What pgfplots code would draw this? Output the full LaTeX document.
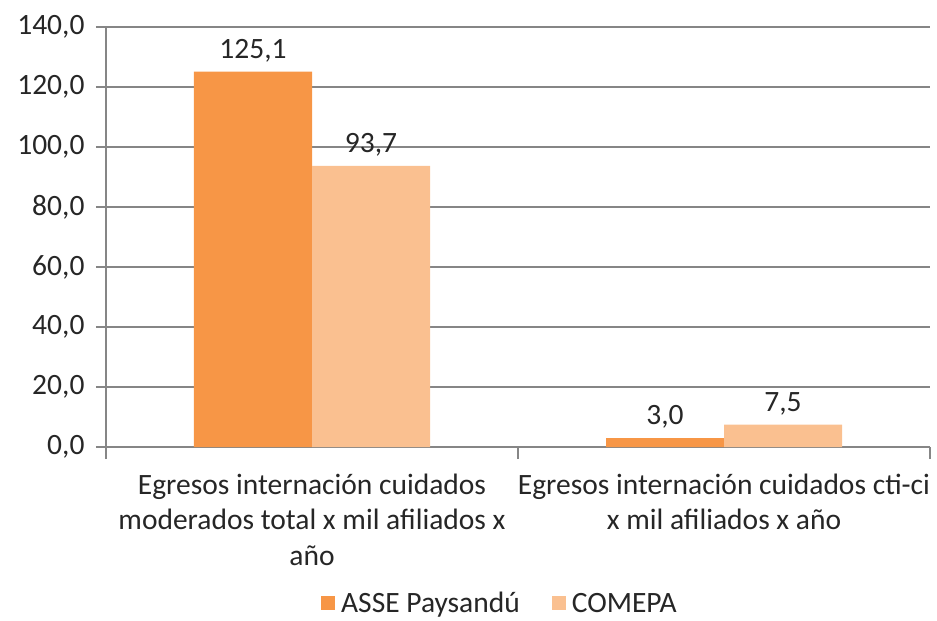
\documentclass[border=0pt]{standalone}
\usepackage{pgfplots}
\pgfplotsset{compat=1.18}
\usepackage{fontspec}
\setmainfont{Carlito}
\definecolor{asse}{HTML}{F79646}
\definecolor{comepa}{HTML}{FAC090}
\definecolor{axisgray}{HTML}{868686}
\definecolor{txt}{HTML}{262626}
\begin{document}
\begin{tikzpicture}
\begin{axis}[
    at={(0pt,0pt)}, anchor=south west,
    scale only axis,
    width=824pt, height=420pt,
    ybar=0pt,
    bar width=118pt,
    xmin=-0.5, xmax=1.5,
    ymin=0, ymax=140,
    ytick={0,20,...,140},
    xtick={0,1},
    xticklabels={{Egresos internación cuidados\\moderados total x mil afiliados x\\año},
                 {Egresos internación cuidados cti-ci\\x mil afiliados x año}},
    xtick style={draw=none},
    extra x ticks={-0.5,0.5,1.5},
    extra x tick labels={},
    extra x tick style={xtick style={draw=axisgray, line width=1.5pt}, major tick length=12pt, tick align=outside},
    axis x line*=bottom,
    axis y line*=left,
    axis line style={draw=axisgray, line width=1.5pt},
    ytick style={draw=axisgray, line width=1.5pt},
    major tick length=10pt,
    tick align=outside,
    ymajorgrids,
    grid style={draw=axisgray, line width=1.5pt},
    font=\fontsize{29.5}{35.5}\selectfont\color{txt},
    /pgf/number format/.cd, fixed, fixed zerofill, precision=1, use comma, assume math mode=true,
    /pgfplots/.cd,
    yticklabel style={font=\fontsize{29.5}{33}\selectfont\color{txt}, xshift=-8pt},
    xticklabel style={align=center, font=\fontsize{29.5}{35.5}\selectfont\color{txt}, yshift=-13pt},
    nodes near coords,
    every node near coord/.append style={font=\fontsize{29.5}{33}\selectfont\color{txt}, yshift=6pt},
    legend style={at={(0.478,-0.372)}, anchor=center, draw=none, legend columns=2,
        font=\fontsize{29.5}{33}\selectfont\color{txt},
        /tikz/every even column/.append style={column sep=30pt}},
    legend image code/.code={\fill[#1] (0pt,-7pt) rectangle (14pt,7pt);},
]
\addplot[fill=asse, draw=none] coordinates {(0,125.1) (1,3.0)};
\addlegendentry{\hspace{4pt}ASSE Paysandú}
\addplot[fill=comepa, draw=none] coordinates {(0,93.7) (1,7.5)};
\addlegendentry{\hspace{4pt}COMEPA}
\end{axis}
\pgfresetboundingbox
\path[use as bounding box] (-106pt,-174pt) rectangle (831pt,447pt);
\end{tikzpicture}
\end{document}
